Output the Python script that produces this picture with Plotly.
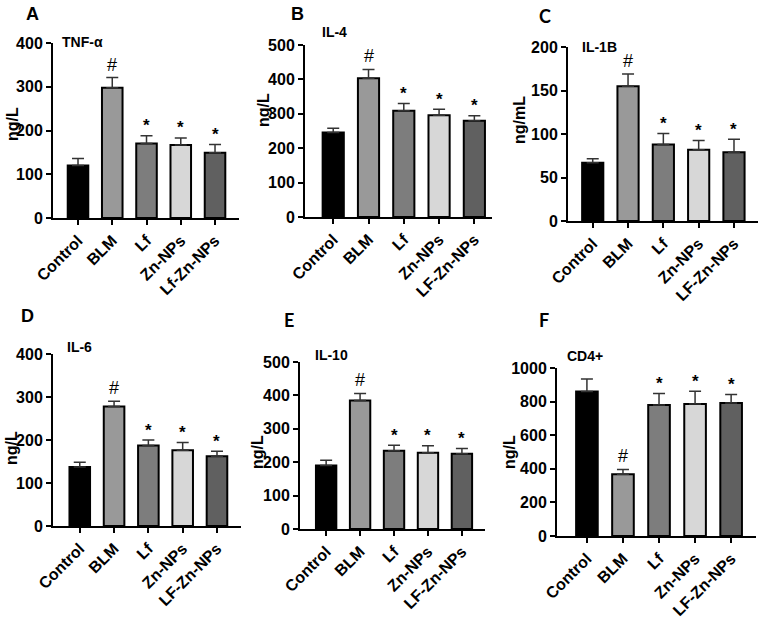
import plotly.graph_objects as go

# ---------------- data ----------------
categories = ["Control", "BLM", "Lf", "Zn-NPs", "LF-Zn-NPs"]
labels_a = ["Control", "BLM", "Lf", "Zn-NPs", "Lf-Zn-NPs"]

tnf_mean = [120, 298, 170, 167, 149]
tnf_sd = [16, 23, 18, 16, 19]
il4_mean = [246, 403, 309, 296, 280]
il4_sd = [12, 26, 21, 17, 14]
il1b_mean = [67, 155, 88, 82, 79]
il1b_sd = [4.5, 14, 12.5, 10.5, 15]
il6_mean = [137, 278, 187, 176, 162]
il6_sd = [11, 12, 13, 18, 12]
il10_mean = [190, 385, 234, 228, 225]
il10_sd = [16, 21, 17, 21, 16]
cd4_mean = [860, 368, 780, 786, 791]
cd4_sd = [74, 28, 68, 76, 52]

marks = ["", "#", "*", "*", "*"]

panel_letters = ["A", "B", "C", "D", "E", "F"]
panel_titles = ["TNF-α", "IL-4", "IL-1B", "IL-6", "IL-10", "CD4+"]
y_titles = ["ng/L", "ng/L", "ng/mL", "ng/L", "ng/L", "ng/L"]
y_max = [400, 500, 200, 400, 500, 1000]
y_dtick = [100, 100, 50, 100, 100, 200]

bar_colors = ["#000000", "#999999", "#7d7d7d", "#d7d7d7", "#606060"]

# ---------------- layout (pixels) ----------------
W, H = 760, 618
# axis_left, axis_right, y_top, y_bottom, xrange
geom = [
    (53, 239, 43, 218, (-0.73, 4.70)),
    (305, 492, 45, 217, (-0.80, 4.50)),
    (568, 758, 47, 221, (-0.70, 4.68)),
    (53, 241, 354, 526, (-0.78, 4.70)),
    (300, 485, 362, 529, (-0.77, 4.68)),
    (557, 756, 368, 536, (-0.83, 4.69)),
]
letter_pos = [(32, 14), (297, 14), (545, 16), (27, 316), (289, 320), (544, 320)]
letter_fonts = ["Liberation Sans", "Liberation Sans", "Lato", "Liberation Sans", "Lato", "Lato"]
title_pos = [(60, 42), (320, 32), (580, 47), (65, 347), (313, 355), (565, 356)]
ytitle_pos = [(12, 124), (263, 110), (519, 120), (11, 448), (257, 452), (509, 452)]

means = [tnf_mean, il4_mean, il1b_mean, il6_mean, il10_mean, cd4_mean]
sds = [tnf_sd, il4_sd, il1b_sd, il6_sd, il10_sd, cd4_sd]
ticklabels = [labels_a, categories, categories, categories, categories, categories]

FONT = "Liberation Sans, Arial, sans-serif"

fig = go.Figure()
annotations = []

for i in range(6):
    n = i + 1
    xa = "x" if n == 1 else f"x{n}"
    ya = "y" if n == 1 else f"y{n}"
    left, right, top, bottom, xr = geom[i]
    xs = list(range(len(categories)))
    fig.add_trace(go.Bar(
        x=xs, y=means[i], xaxis=xa, yaxis=ya,
        width=0.6,
        marker=dict(color=bar_colors, line=dict(color="black", width=2)),
        error_y=dict(type="data", array=sds[i], arrayminus=[0] * 5, symmetric=False,
                     color="#333333", thickness=1.5, width=6),
        showlegend=False, hoverinfo="skip",
    ))
    axis_common = dict(showline=True, linecolor="black", linewidth=2, ticks="outside",
                       ticklen=5, tickwidth=2, tickcolor="black", showgrid=False,
                       zeroline=False, automargin=False,
                       tickfont=dict(family=FONT, size=16, color="black", weight="bold"))
    fig.update_layout(**{
        ("xaxis" if n == 1 else f"xaxis{n}"): dict(
            domain=[left / W, right / W], anchor=ya, range=list(xr),
            tickmode="array", tickvals=xs, ticktext=ticklabels[i], tickangle=-45,
            **axis_common),
        ("yaxis" if n == 1 else f"yaxis{n}"): dict(
            domain=[1 - bottom / H, 1 - top / H], anchor=xa, range=[0, y_max[i]],
            dtick=y_dtick[i], tick0=0, **axis_common),
    })
    # significance marks
    for k in range(5):
        if marks[k]:
            is_hash = marks[k] == "#"
            annotations.append(dict(
                x=k, y=means[i][k] + sds[i][k], xref=xa, yref=ya,
                text=marks[k], showarrow=False, yanchor="middle",
                yshift=13 if is_hash else 10,
                font=dict(family=FONT, size=18 if is_hash else 17, color="black",
                          weight="normal" if is_hash else "bold"),
            ))
    # panel letter
    lx, ly = letter_pos[i]
    annotations.append(dict(x=lx / W, y=1 - ly / H, xref="paper", yref="paper",
                            text=panel_letters[i], showarrow=False, xanchor="center", yanchor="middle",
                            font=dict(family=letter_fonts[i], size=18, color="black", weight="bold")))
    # panel title
    tx, ty = title_pos[i]
    annotations.append(dict(x=tx / W, y=1 - ty / H, xref="paper", yref="paper",
                            text=panel_titles[i], showarrow=False, xanchor="left", yanchor="middle",
                            font=dict(family=FONT, size=14, color="black", weight="bold")))
    # y-axis title
    yx, yy = ytitle_pos[i]
    annotations.append(dict(x=yx / W, y=1 - yy / H, xref="paper", yref="paper",
                            text=y_titles[i], showarrow=False, xanchor="center", yanchor="middle",
                            textangle=-90,
                            font=dict(family=FONT, size=16, color="black", weight="bold")))

fig.update_layout(
    width=W, height=H, margin=dict(l=0, r=0, t=0, b=0),
    paper_bgcolor="white", plot_bgcolor="white",
    showlegend=False, bargap=0.4,
    annotations=annotations,
)

fig.write_html("out.html", config={"displayModeBar": False},
               post_script="document.body.style.margin='0';document.body.style.overflow='hidden';")
